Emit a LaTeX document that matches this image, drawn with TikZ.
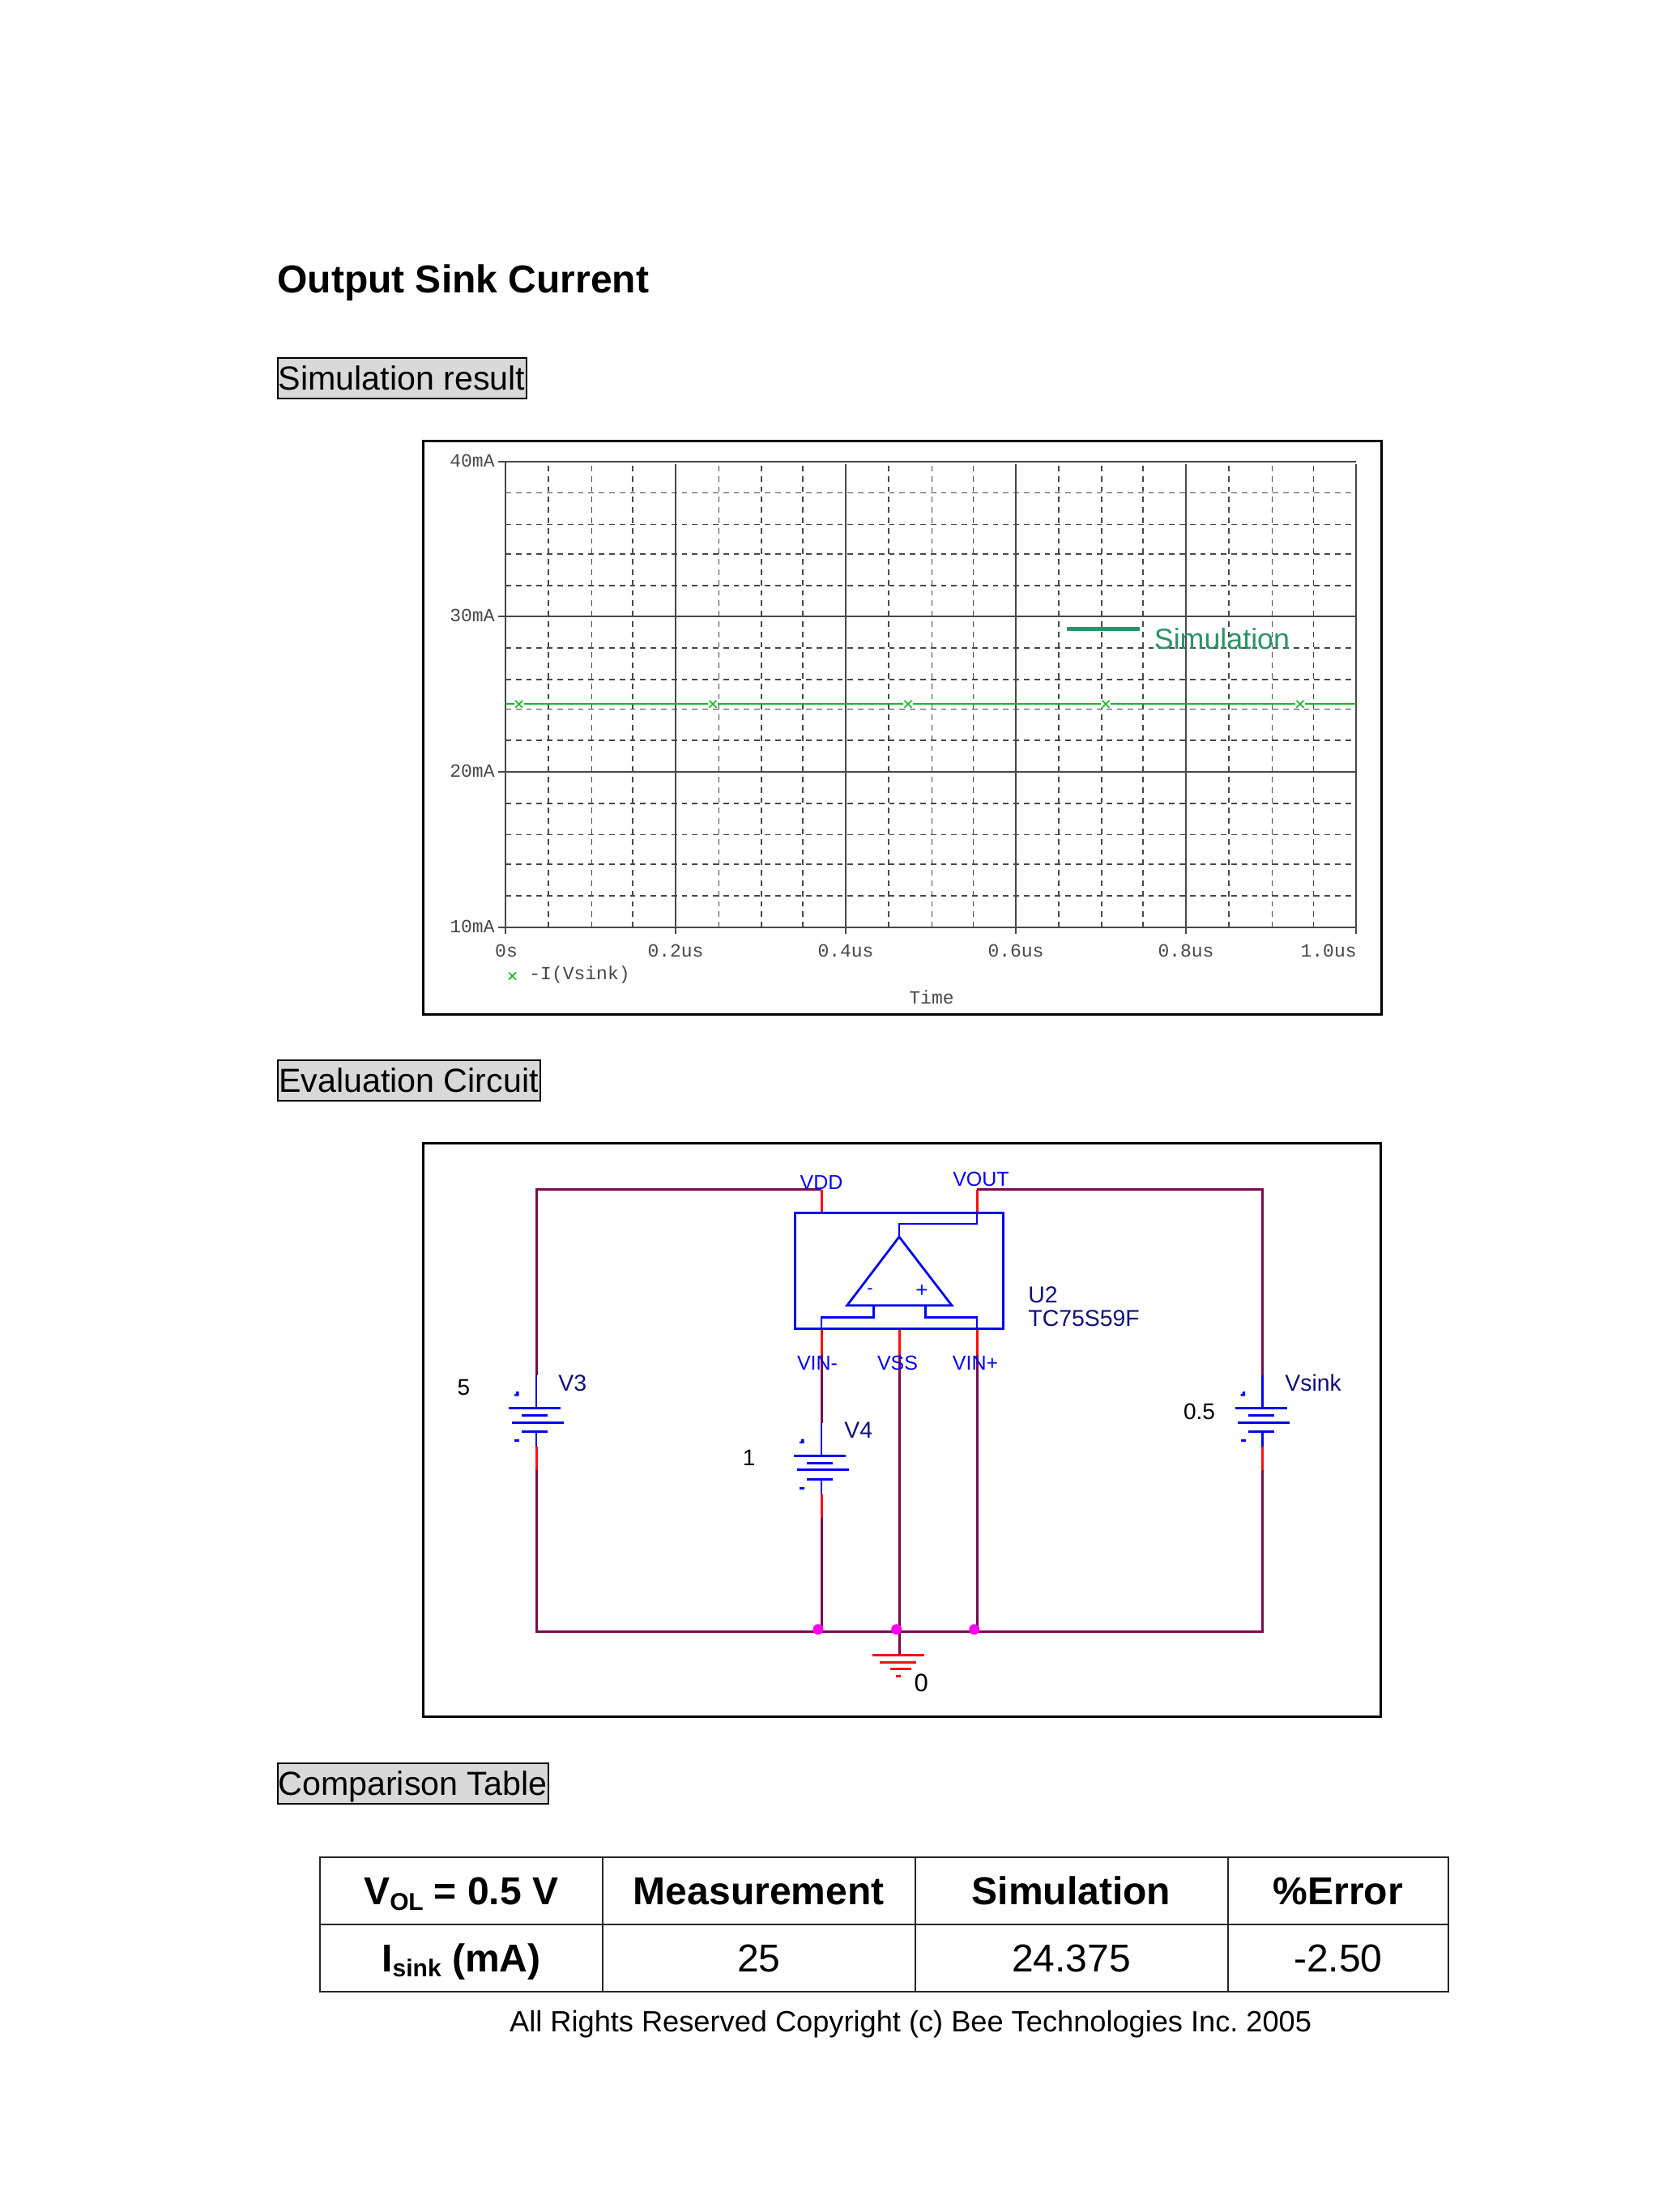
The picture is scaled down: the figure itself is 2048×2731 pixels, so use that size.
\documentclass[tikz,border=0pt]{standalone}
\usepackage{fontspec}
\setmainfont{Liberation Sans}
\newfontfamily\plotfont{Liberation Mono}
\newcommand{\fs}[1]{\fontsize{#1}{#1}\selectfont}
\definecolor{wirep}{RGB}{122,10,78}
\definecolor{pinr}{RGB}{250,15,15}
\definecolor{partb}{RGB}{5,5,240}
\definecolor{refn}{RGB}{15,15,125}
\definecolor{gridc}{RGB}{72,72,72}
\definecolor{trace}{RGB}{20,185,35}
\definecolor{simg}{RGB}{46,146,104}
\definecolor{headg}{RGB}{217,217,217}
\definecolor{mag}{RGB}{250,0,240}
\tikzset{
  x=0.5pt,y=-0.5pt,
  framebox/.style={draw=black,line width=1.5pt,fill=white},
  major/.style={draw=gridc,line width=1pt},
  minor/.style={draw=gridc,line width=0.85pt,dash pattern=on 3.4pt off 3pt},
  plottext/.style={inner sep=0,font={\plotfont\fs{11.5}},text=gridc},
  headbox/.style={draw=black,line width=1pt,fill=headg,inner sep=0,outer sep=0,anchor=north west,
    font={\fs{20.6}},text height=19.85pt,text depth=5.3pt},
  wire/.style={draw=wirep,line width=1.5pt},
  pin/.style={draw=pinr,line width=1.5pt},
  part/.style={draw=partb,line width=1.4pt},
  plate/.style={draw=partb,line width=1.5pt},
  gnd/.style={draw=pinr,line width=1.5pt},
  pinlab/.style={inner sep=0,anchor=base,text=partb,font={\fs{12.5}}},
  reflab/.style={inner sep=0,anchor=base west,text=refn,font={\fs{14.2}}},
  vallab/.style={inner sep=0,anchor=base,text=black,font={\fs{14}}},
  cellh/.style={draw=black!85,line width=1pt,inner sep=0,outer sep=0,anchor=north west,
    font={\bfseries\fs{24}},text height=28.85pt,text depth=12.35pt},
  cellv/.style={draw=black!85,line width=1pt,inner sep=0,outer sep=0,anchor=north west,
    font={\fs{24}},text height=29.15pt,text depth=12.35pt},
  batt/.pic={
    \coordinate (-top) at (0,0);
    \coordinate (-bot) at (0,117);
    \draw[pin] (0,-2)--(0,0);
    \draw[part] (0,0)--(0,40.7);
    \draw[plate] (-33.7,40.7)--(30.3,40.7);
    \draw[plate] (-17.7,49.3)--(14.3,49.3);
    \draw[plate] (-30.3,58)--(33.7,58);
    \draw[plate] (-17.7,69.3)--(14.3,69.3);
    \draw[part] (0,69.3)--(0,88);
    \draw[pin] (0,88)--(0,117);
    \fill[partb] (-27,25.5)--(-27,23)--(-25,23)--(-25,20)--(-21.5,20)--(-21.5,25.5)--cycle;
    \draw[plate] (-27,80.7)--(-21,80.7);
  },
  xmark/.pic={
    \fill[white] (-6,-5)rectangle(6,5);
    \draw[draw=trace,line width=0.8pt] (-4.5,-4.5)--(4.5,4.5) (-4.5,4.5)--(4.5,-4.5);
  },
}
\begin{document}
\begin{tikzpicture}
\frenchspacing
\useasboundingbox[fill=white] (0,0) rectangle (2048,2731);
% title and section headings
\node[inner sep=0,anchor=base west,font={\bfseries\fs{24}}] (title) at (342,361) {Output Sink Current};
\node[headbox,minimum width=153.5pt] (h1) at (342.5,442) {Simulation result};
\node[headbox,minimum width=162pt] (h2) at (342.5,1309) {Evaluation Circuit};
\node[headbox,minimum width=167pt] (h3) at (342.5,2177) {Comparison Table};
% plot frame
\node[framebox,inner sep=0,outer sep=0,anchor=north west,minimum width=591.5pt,minimum height=354pt] (plotframe) at (522.5,544) {};
% minor grid
\foreach \yy in {608.5,647.5,684,723,800,839,875.5,914,992,1030.5,1067,1106}
  \draw[minor] (624,\yy)--(1674,\yy);
\foreach \xx in {677,730.4,781.3,887.5,940.2,991,1096.9,1150.4,1201.6,1307,1360,1411,1516.7,1570.5,1621.5}
  \draw[minor] (\xx,575)--(\xx,1145);
% major grid
\foreach \yy in {569.5,761,953,1145}
  \draw[major] (615,\yy)--(1674,\yy);
\draw[major] (624,569.5)--(624,1153);
\foreach \xx in {834.4,1044,1254,1464,1674}
  \draw[major] (\xx,573)--(\xx,1153);
% plot axis labels
\node[plottext,anchor=base east] (y40) at (611,576) {40mA};
\node[plottext,anchor=base east] (y30) at (611,767) {30mA};
\node[plottext,anchor=base east] (y20) at (611,959) {20mA};
\node[plottext,anchor=base east] (y10) at (611,1151) {10mA};
\node[plottext,anchor=base] (x0) at (625,1181) {0s};
\node[plottext,anchor=base] (x2) at (834,1181) {0.2us};
\node[plottext,anchor=base] (x4) at (1044,1181) {0.4us};
\node[plottext,anchor=base] (x6) at (1254,1181) {0.6us};
\node[plottext,anchor=base] (x8) at (1464,1181) {0.8us};
\node[plottext,anchor=base east] (x10) at (1675,1181) {1.0us};
\node[plottext,anchor=base west] (legend) at (653,1209) {-I(Vsink)};
\node[plottext,anchor=base west] (timelab) at (1122,1239) {Time};
% trace
\draw[draw=trace,line width=1.1pt] (624,869.3)--(1674,869.3);
\foreach \xx in {640.6,880,1121,1365,1605}
  \pic at (\xx,869.3) {xmark};
\pic at (632.6,1205) {xmark};
% simulation key
\draw[draw=simg,line width=2.5pt] (1316.7,776.3)--(1407,776.3);
\node[inner sep=0,anchor=base west,text=simg,font={\fs{17.9}}] (simkey) at (1424.5,801.7) {Simulation};
% circuit frame
\node[framebox,inner sep=0,outer sep=0,anchor=north west,minimum width=591pt,minimum height=354pt] (circframe) at (522.5,1411) {};
% part body
\coordinate (pvdd) at (1014,1497.3);
\coordinate (pvout) at (1206,1497.3);
\coordinate (pvin) at (1014,1640.7);
\coordinate (pvss) at (1110,1640.7);
\coordinate (pvip) at (1206,1640.7);
\coordinate (tvdd) at (1014,1468.7);
\coordinate (tvout) at (1206,1468.7);
\coordinate (mvin) at (1014,1673);
\coordinate (mvss) at (1110,1673);
\coordinate (mvip) at (1206,1673);
\coordinate (gvin) at (1014,2014.7);
\coordinate (gvss) at (1110,2014.7);
\coordinate (gvip) at (1206,2014.7);
\coordinate (gtop) at (1110,2043);
\pic (v3) at (662,1698) {batt};
\pic (vs) at (1558.7,1698) {batt};
\pic (v4) at (1014,1756.7) {batt};
% wires
\draw[wire] (v3-top) |- (tvdd);
\draw[wire] (tvout) -| (vs-top);
\draw[wire] (v3-bot) |- (gvss);
\draw[wire] (vs-bot) |- (gvss);
\draw[wire] (mvin) -- (v4-top);
\draw[wire] (v4-bot) -- (gvin);
\draw[wire] (mvss) -- (gtop);
\draw[wire] (mvip) -- (gvip);
\draw[pin] (tvdd) -- (pvdd);
\draw[pin] (tvout) -- (pvout);
\draw[pin] (pvin) -- (mvin);
\draw[pin] (pvss) -- (mvss);
\draw[pin] (pvip) -- (mvip);
% op-amp part
\draw[part] (981.7,1497.3) rectangle (1238.3,1640.7);
\draw[part] (pvout) |- (1110,1511) -- (1110,1527);
\draw[part,line join=miter] (1110,1527)--(1175,1611.7)--(1045.7,1611.7)--cycle;
\draw[part] (1078.3,1611.7)|-(1014,1626.7)--(pvin);
\draw[part] (1142.3,1611.7)|-(1206,1626.7)--(pvip);
\node[inner sep=0,text=partb,font={\fs{11}}] (opm) at (1074,1594) {-};
\node[inner sep=0,text=partb,font={\fs{13}}] (opp) at (1138,1594) {+};
% connection dots
\foreach \xx in {1010,1106.7,1202.7}
  \fill[mag] (\xx,2011.7) circle (6.5);
% ground
\draw[gnd] (1076.7,2043)--(1140.7,2043);
\draw[gnd] (1086,2052)--(1131,2052);
\draw[gnd] (1099,2060.3)--(1124.7,2060.3);
\draw[gnd] (1105.7,2069)--(1112,2069);
% circuit labels
\node[pinlab] (lvdd) at (1014,1468) {VDD};
\node[pinlab] (lvout) at (1211,1464.5) {VOUT};
\node[pinlab] (lvin) at (1009,1691) {VIN-};
\node[pinlab] (lvss) at (1108,1691) {VSS};
\node[pinlab] (lvip) at (1204,1691) {VIN+};
\node[reflab] (lu2) at (1269,1608) {U2};
\node[reflab] (ltc) at (1269,1637) {TC75S59F};
\node[reflab] (lv3) at (689,1717) {V3};
\node[reflab] (lv4) at (1042,1775) {V4};
\node[reflab] (lvs) at (1586,1717) {Vsink};
\node[vallab] (val5) at (572.5,1722.7) {5};
\node[vallab] (val1) at (924.6,1809) {1};
\node[vallab] (val05) at (1480.5,1752) {0.5};
\node[vallab,font={\fs{15.5}}] (val0) at (1137.3,2088) {0};
% table
\node[cellh,minimum width=174.85pt] (c11) at (394.5,2293.3) {V\raisebox{-3.7pt}{\fs{15}O\kern-0.2pt L} = 0.5 V};
\node[cellh,minimum width=193pt] (c12) at (743.7,2293.3) {Measurement};
\node[cellh,minimum width=192.9pt] (c13) at (1129.7,2293.3) {Simulation};
\node[cellh,minimum width=136.25pt] (c14) at (1515.5,2293.3) {\%Error};
\node[cellv,minimum width=174.85pt,font={\bfseries\fs{24}}] (c21) at (394.5,2375.7) {I\raisebox{-3.4pt}{\fs{15}sink} (mA)};
\node[cellv,minimum width=193pt] (c22) at (743.7,2375.7) {25};
\node[cellv,minimum width=192.9pt] (c23) at (1129.7,2375.7) {24.375};
\node[cellv,minimum width=136.25pt] (c24) at (1515.5,2375.7) {-2.50};
\node[inner sep=0,anchor=base west,font={\fs{18.1}}] (copy) at (628.8,2508) {All Rights Reserved Copyright (c) Bee Technologies Inc. 2005};
\end{tikzpicture}
\end{document}
